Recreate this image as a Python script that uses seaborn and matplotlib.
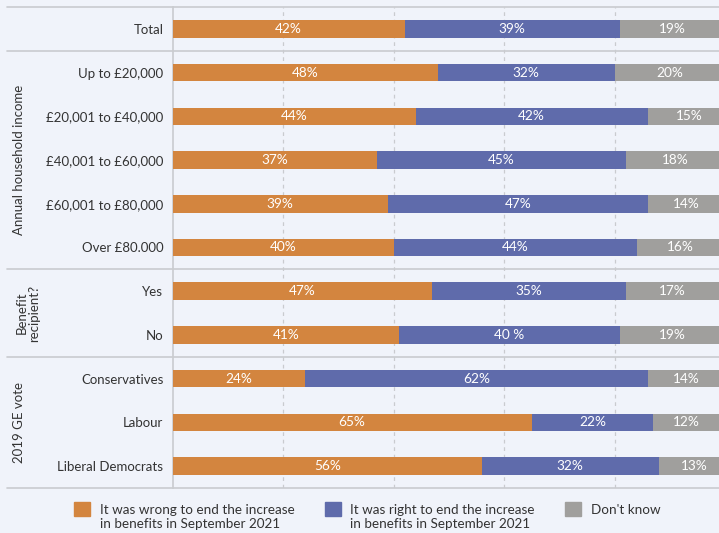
import matplotlib
matplotlib.use("Agg")
import matplotlib.pyplot as plt
from matplotlib.patches import Patch, Rectangle
from matplotlib.legend_handler import HandlerPatch
import seaborn as sns
import pandas as pd
import numpy as np

categories = ["Total", "Up to £20,000", "£20,001 to £40,000", "£40,001 to £60,000",
              "£60,001 to £80,000", "Over £80.000", "Yes", "No",
              "Conservatives", "Labour", "Liberal Democrats"]
wrong = [42, 48, 44, 37, 39, 40, 47, 41, 24, 65, 56]
right = [39, 32, 42, 45, 47, 44, 35, 40, 62, 22, 32]
dont_know = [19, 20, 15, 18, 14, 16, 17, 19, 14, 12, 13]
right_labels = ["39%", "32%", "42%", "45%", "47%", "44%", "35%", "40 %", "62%", "22%", "32%"]
groups = [("Annual household income", 1, 5), ("Benefit\nrecipient?", 6, 7), ("2019 GE vote", 8, 10)]
series_names = ["It was wrong to end the increase\nin benefits in September 2021",
                "It was right to end the increase\nin benefits in September 2021",
                "Don't know\n"]

C_OR = "#d3853f"
C_BL = "#5f6bab"
C_GR = "#a09f9d"
BG = "#f0f3fa"
LINE = "#c9cbcf"
TXT = "#333333"

sns.set_theme(style="white")
plt.rcParams["font.family"] = ["Lato", "DejaVu Sans"]

df = pd.DataFrame({"cat": categories, "wrong": wrong, "right": right, "dk": dont_know})
df["c2"] = df["wrong"] + df["right"]
df["c3"] = df["c2"] + df["dk"]

W, H = 719, 533
fig = plt.figure(figsize=(W / 100, H / 100), dpi=100, facecolor=BG)
x0, xr, ytop, ybot = 172.5, 719, 7, 488
ax = fig.add_axes([x0 / W, (H - ybot) / H, (xr - x0) / W, (ybot - ytop) / H])
ax.set_facecolor(BG)

for col, c in [("c3", C_GR), ("c2", C_BL), ("wrong", C_OR)]:
    sns.barplot(data=df, x=col, y="cat", order=categories, orient="h", color=c,
                width=0.4, saturation=1, linewidth=0, ax=ax, zorder=3)

ppu = 5.525
ax.set_xlim(0, (xr - x0) / ppu)
ax.set_ylim(10.5, -0.5)
ax.set_xticks([20, 40, 60, 80])
ax.grid(axis="x", color=LINE, linestyle=(0, (3, 3)), linewidth=0.9, zorder=0)
ax.tick_params(axis="x", length=0, labelbottom=False)
ax.tick_params(axis="y", length=0, pad=6.5, labelsize=9.5, labelcolor=TXT)
ax.set_xlabel("")
ax.set_ylabel("")
for s in ["top", "right", "bottom"]:
    ax.spines[s].set_visible(False)
ax.spines["left"].set_color(LINE)
ax.spines["left"].set_linewidth(1.2)

xmin_ax = (7 - x0) / (xr - x0)
for yv in [-0.5, 0.5, 5.5, 7.5, 10.5]:
    ax.axhline(yv, xmin=xmin_ax, xmax=1, color=LINE, linewidth=1.2, clip_on=False, zorder=4)

for i in range(len(categories)):
    o, b, g = wrong[i], right[i], dont_know[i]
    kw = dict(ha="center", va="center", color="white", fontsize=9.8, zorder=5)
    ax.text(o / 2, i, f"{o}%", **kw)
    ax.text(o + b / 2, i, right_labels[i], **kw)
    ax.text(o + b + g / 2, i, f"{g}%", **kw)

ytr = ax.get_yaxis_transform()
for name, a, bnd in groups:
    xx = (19 - x0) / (xr - x0) if "\n" not in name else (28 - x0) / (xr - x0)
    ax.text(xx, (a + bnd) / 2, name, rotation=90, ha="center", va="center",
            multialignment="center", transform=ytr, fontsize=9.5, color=TXT,
            linespacing=1.0)


def make_patch(legend, orig_handle, xdescent, ydescent, width, height, fontsize):
    return Rectangle((-xdescent, -ydescent + 5.8), width, height)


handles = [Patch(color=C_OR), Patch(color=C_BL), Patch(color=C_GR)]
leg = fig.legend(handles, series_names, loc="center left",
                 bbox_to_anchor=(74 / W, 1 - 517 / H), ncol=3, frameon=False,
                 fontsize=9.7, handlelength=1.2, handleheight=1.2, handletextpad=0.7,
                 columnspacing=2.25, borderpad=0, borderaxespad=0, labelcolor=TXT,
                 handler_map={Patch: HandlerPatch(patch_func=make_patch)})

fig.savefig("out.png", dpi=100, facecolor=BG)
